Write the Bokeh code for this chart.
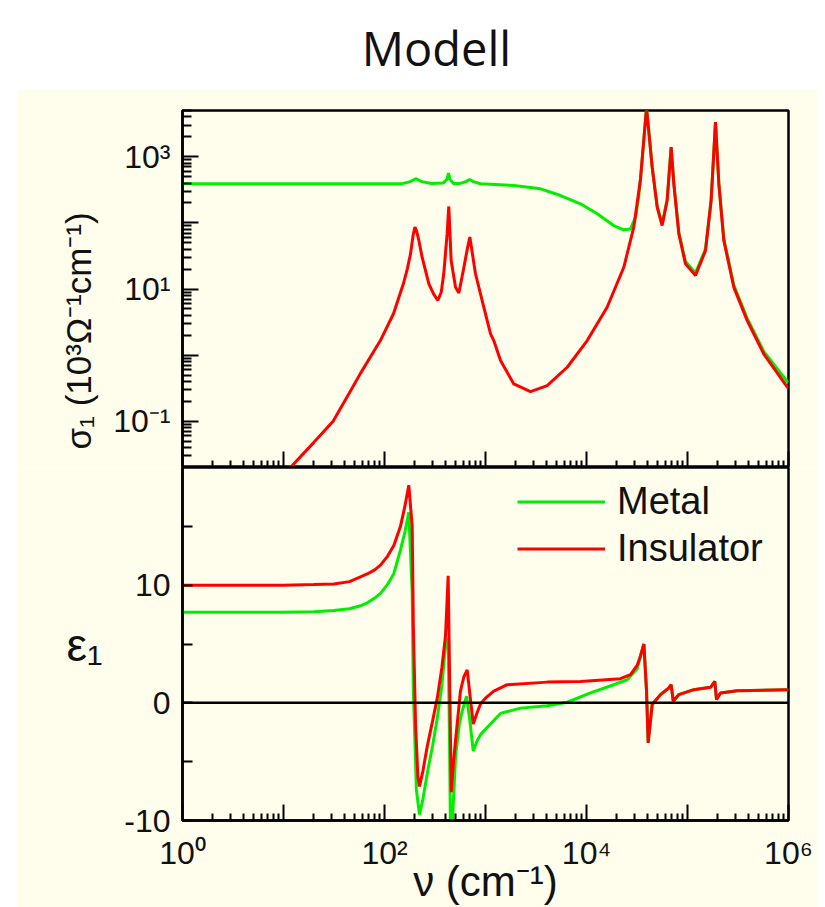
import math
from bokeh.plotting import figure
from bokeh.models import FixedTicker, Range1d, Span, Spacer, Title, LinearAxis
from bokeh.layouts import column, row
from bokeh.embed import file_html
from bokeh.resources import INLINE
from bokeh.core.properties import value

# ---------------- data ----------------
# sigma_1 (10^3 Ohm^-1 cm^-1) vs nu (cm^-1)
nu_sig_ins = [8, 11.7, 20, 31, 45, 57.8, 75, 91, 123, 154,
              168, 181, 192, 200, 208, 219, 236, 275, 305, 337,
              365, 386, 417, 433, 457, 505, 545, 610, 660, 700,
              740, 796, 962, 1122, 1208, 1409, 1905, 2790, 4080, 6440,
              10160, 16000, 23400, 29400, 34300, 39300, 44700, 50100, 56100, 62900,
              68900, 73200, 82100, 95500, 120000, 150700, 171400, 189300, 204300, 229000,
              287800, 390000, 570000, 970000, 1000000]
sig_ins = [0.0095, 0.020, 0.048, 0.10, 0.27, 0.53, 1.02, 1.66, 4.26, 12.1,
           20, 34, 65, 86, 75, 54, 30, 12, 8.5, 6.7,
           9.0, 17, 68, 177, 27, 10.6, 8.7, 21, 40, 61,
           35, 17, 5.3, 2.10, 1.66, 0.83, 0.367, 0.281, 0.347, 0.656,
           1.66, 5.3, 21.3, 86, 469, 5500, 695, 173, 91, 218,
           1395, 390, 68, 24, 16, 38, 218, 3330, 390, 54,
           10.6, 3.33, 1.04, 0.33, 0.32]

nu_sig_met = [1, 100, 150, 180, 203, 235, 290, 380, 415, 430,
              445, 480, 560, 640, 695, 760, 892, 1905, 3510, 5530,
              8720, 12760, 18600, 23400, 27300, 30600, 33000, 34300, 39300, 44700,
              50100, 56100, 62900, 68900, 73200, 82100, 95500, 120000, 150700, 171400,
              189300, 204300, 229000, 287800, 390000, 570000, 970000, 1000000]
sig_met = [390, 390, 392, 420, 465, 420, 395, 400, 455, 564,
           455, 395, 395, 420, 453, 420, 390, 367, 327, 259,
           194, 137, 91, 78.5, 81, 122, 259, 480, 5500, 700,
           178, 96, 225, 1395, 395, 72, 26, 17.5, 40, 222,
           3330, 395, 57, 11.4, 3.6, 1.13, 0.40, 0.385]

# epsilon_1 vs nu (cm^-1)
nu_eps_ins = [1, 10, 20, 31.5, 45, 57.8, 67.4, 80, 91.2, 106,
              124, 144, 160, 174, 188, 193, 203, 214, 222, 240,
              265, 300, 333, 370, 402, 427, 443, 458, 480, 505,
              565, 610, 659, 705, 756, 820, 892, 1000, 1208, 1640,
              4080, 8720, 21700, 27300, 31800, 34300, 37000, 39300, 40800, 44700,
              54000, 65300, 68900, 72200, 82100, 115400, 169000, 186400, 193800, 212300,
              310000, 970000, 1000000]
eps_ins = [10.0, 10.0, 10.05, 10.1, 10.3, 10.7, 10.95, 11.3, 11.7, 12.4,
           13.4, 15.0, 16.8, 18.5, 15.0, 6.6, -1.8, -6.3, -7.1, -5.8,
           -3.7, -1.5, 0.4, 3.0, 5.7, 10.8, 1.0, -7.6, -5.2, -3.2,
           1.0, 2.2, 2.8, 0.5, -1.8, -0.9, -0.1, 0.4, 1.0, 1.54,
           1.76, 1.82, 2.05, 2.4, 3.2, 4.0, 5.0, 1.0, -3.4, -0.14,
           0.70, 1.26, 1.54, 0.14, 0.70, 1.12, 1.32, 1.82, 0.28, 0.84,
           1.03, 1.12, 1.12]

nu_eps_met = [1, 10, 20, 31.5, 45, 57.8, 67.4, 80, 91.2, 106,
              124, 144, 160, 174, 188, 193, 207, 222, 240, 265,
              300, 333, 370, 402, 427, 440, 452, 458, 480, 505,
              550, 588, 649, 700, 756, 820, 892, 1208, 1409, 2220,
              4080, 6440, 10960, 18600, 25300, 31800, 34300, 37000, 39300, 40800,
              44700, 54000, 65300, 68900, 72200, 82100, 115400, 169000, 186400, 193800,
              212300, 310000, 970000, 1000000]
eps_met = [7.7, 7.7, 7.75, 7.85, 8.0, 8.25, 8.5, 8.9, 9.3, 10.0,
           11.0, 13.0, 14.6, 16.2, 9.4, 1.0, -7.4, -9.5, -8.2, -6.0,
           -3.6, -1.3, 1.5, 4.9, 5.5, -3.0, -12.5, -13.0, -8.5, -4.6,
           -1.8, -0.7, 0.56, -1.5, -4.1, -3.3, -2.7, -1.5, -0.9, -0.45,
           -0.25, 0.05, 0.84, 1.54, 1.96, 2.9, 4.0, 5.0, 1.0, -3.4,
           -0.14, 0.70, 1.26, 1.54, 0.14, 0.70, 1.12, 1.32, 1.82, 0.28,
           0.84, 1.03, 1.12, 1.12]

series_names = ["Metal", "Insulator"]

# ticks and tick labels
x_ticks = [1.0, 10.0, 100.0, 1000.0, 10000.0, 100000.0, 1000000.0]
x_tick_labels = ["10\u2070", "", "10\u00b2", "", "10\u2074", "", "10\u2076"]
sig_ticks = [0.1, 1.0, 10.0, 100.0, 1000.0]
sig_tick_labels = ["10\u207b\u00b9", "", "10\u00b9", "", "10\u00b3"]
eps_ticks = [-10, -5, 0, 5, 10, 15]
eps_tick_labels = ["-10", "", "0", "", "10", ""]

title_text = "Modell"
sig_label = "\u03c3\u2081 (10\u00b3\u03a9\u207b\u00b9cm\u207b\u00b9)"
eps_label = "\u03b5\u2081"
x_label = "\u03bd (cm\u207b\u00b9)"

# ---------------- styling ----------------
CREAM = "#fffdeb"
GREEN = "#00ee00"
RED = "#ff0000"
FONT = "Liberation Sans"
INK = "#111111"

x_minor = [k * 10.0 ** d for d in range(0, 6) for k in range(2, 10)]
sig_minor = [k * 10.0 ** d for d in range(-2, 4) for k in range(2, 10) if 0.02 <= k * 10.0 ** d <= 5000]


def style_axis(ax, ticks, labels, minor, major_in, minor_in, label_size):
    ax.ticker = FixedTicker(ticks=ticks, minor_ticks=minor)
    ax.major_label_overrides = dict(zip(ticks, labels))
    ax.major_tick_in = major_in
    ax.major_tick_out = 0
    ax.minor_tick_in = minor_in
    ax.minor_tick_out = 0
    ax.axis_line_width = 2.5
    ax.axis_line_color = "black"
    ax.major_tick_line_width = 2
    ax.minor_tick_line_width = 2
    ax.major_tick_line_color = "black"
    ax.minor_tick_line_color = "black"
    ax.major_label_text_font = FONT
    ax.major_label_text_font_size = label_size
    ax.major_label_text_color = INK


x_range = Range1d(1, 1e6)

# ---------------- top panel: sigma_1 ----------------
top = figure(width=800, height=378, x_axis_type="log", y_axis_type="log",
             x_range=x_range, y_range=Range1d(0.02, 5000), title_location=None,
             output_backend="svg", toolbar_location=None,
             min_border_left=165, min_border_right=29, min_border_top=21, min_border_bottom=0,
             background_fill_color=CREAM, border_fill_color=CREAM,
             outline_line_color="black", outline_line_width=2.5)
top.grid.visible = False
top.line(nu_sig_met, sig_met, line_color=GREEN, line_width=3)
top.line(nu_sig_ins, sig_ins, line_color=RED, line_width=3)

style_axis(top.xaxis[0], x_ticks, [""] * len(x_ticks), x_minor, 16, 7, "0px")
top.xaxis[0].major_label_standoff = 0
style_axis(top.yaxis[0], sig_ticks, sig_tick_labels, sig_minor, 16, 9, "32px")
top.yaxis[0].major_label_standoff = 12

top.add_layout(Title(text=sig_label, align="left", offset=18, standoff=26,
                     text_font=FONT, text_font_size="35px", text_font_style="normal",
                     text_color=INK), "left")

# ---------------- bottom panel: epsilon_1 ----------------
bot = figure(width=800, height=440, x_axis_type="log",
             x_range=x_range, y_range=Range1d(-10, 20), title_location=None,
             output_backend="svg", toolbar_location=None,
             min_border_left=165, min_border_right=29, min_border_top=0, min_border_bottom=82,
             background_fill_color=CREAM, border_fill_color=CREAM,
             outline_line_color="black", outline_line_width=2.5)
bot.grid.visible = False
bot.add_layout(Span(location=0, dimension="width", line_color="black", line_width=2.5))
bot.line(nu_eps_met, eps_met, line_color=GREEN, line_width=3, legend_label=series_names[0])
bot.line(nu_eps_ins, eps_ins, line_color=RED, line_width=3, legend_label=series_names[1])

style_axis(bot.xaxis[0], x_ticks, x_tick_labels, x_minor, 16, 7, "32px")
bot.xaxis[0].major_label_standoff = 14
bot.xaxis[0].axis_label = x_label
bot.xaxis[0].axis_label_text_font = FONT
bot.xaxis[0].axis_label_text_font_size = "42px"
bot.xaxis[0].axis_label_text_font_style = "normal"
bot.xaxis[0].axis_label_text_color = INK
bot.xaxis[0].axis_label_standoff = -16

style_axis(bot.yaxis[0], eps_ticks, eps_tick_labels, [], 10, 0, "32px")
bot.yaxis[0].major_label_standoff = 12

# horizontal epsilon_1 label, drawn as the single tick label of a bare extra axis
eps_ax = LinearAxis(ticker=FixedTicker(ticks=[4.9], minor_ticks=[]),
                    major_label_overrides={4.9: eps_label},
                    axis_line_color=None, major_tick_line_color=None, minor_tick_line_color=None,
                    major_label_standoff=13, major_label_text_font=FONT,
                    major_label_text_font_size="46px", major_label_text_color=INK)
bot.add_layout(eps_ax, "left")

leg = bot.legend[0]
leg.location = (335, 248)
leg.glyph_width = 88
leg.glyph_height = 47
leg.label_height = 47
leg.label_standoff = 12
leg.spacing = 0
leg.padding = 0
leg.margin = 0
leg.border_line_color = None
leg.background_fill_alpha = 0
leg.label_text_font = FONT
leg.label_text_font_size = "38px"
leg.label_text_color = INK

# ---------------- title strip ----------------
tf = figure(width=817, height=89, x_range=Range1d(0, 817), y_range=Range1d(0, 89),
            output_backend="svg", toolbar_location=None, min_border=0, title_location=None,
            x_axis_location=None, y_axis_location=None, outline_line_color=None,
            background_fill_color="white", border_fill_color="white")
tf.grid.visible = False
tf.text(x=[436], y=[42], text=[title_text], text_font=value("Open Sans"), text_font_size="47px",
        text_align="center", text_baseline="alphabetic", text_color=INK)

layout = column(tf, row(Spacer(width=17, height=818), column(top, bot)))

with open("out.html", "w") as f:
    f.write(file_html(layout, INLINE))
